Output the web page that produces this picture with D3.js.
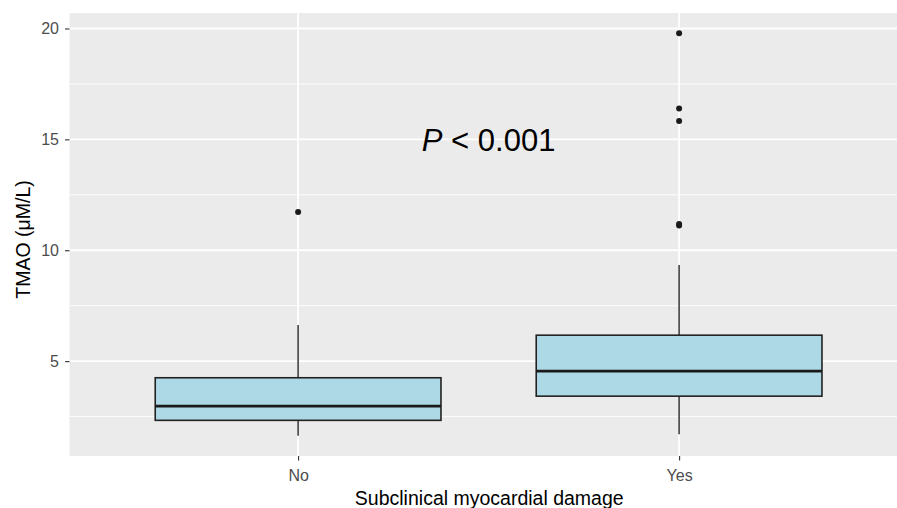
<!DOCTYPE html>
<html>
<head>
<meta charset="utf-8">
<script src="https://cdn.jsdelivr.net/npm/d3@7"></script>
<style>
  body { margin: 0; background: #fff; }
  text { font-family: "Liberation Sans", Arial, sans-serif; }
</style>
</head>
<body>
<script>
var width = 897, height = 508;

// box summaries
var groups = ["No", "Yes"];
var whiskerLow = [1.63, 1.70];
var q1 = [2.33, 3.42];
var median = [2.97, 4.55];
var q3 = [4.25, 6.17];
var whiskerHigh = [6.63, 9.34];
var outliers = [[11.72], [11.12, 11.18, 15.83, 16.39, 19.79]];
var yTicks = [5, 10, 15, 20];
var yMinor = [2.5, 7.5, 12.5, 17.5];

var panel = {left: 69.5, top: 13, bottom: 456};

var svg = d3.select("body")
.append("svg")
.attr("width", width)
.attr("height", height);

// ggplot style 5% expansion on y
var dMin = d3.min(whiskerLow), dMax = d3.max(outliers.flat());
var pad = (dMax - dMin) * 0.05;
var y = d3.scaleLinear()
.domain([dMin - pad, dMax + pad])
.range([panel.bottom, panel.top]);

// discrete positions 1,2 with 0.6 expansion
var x = d3.scaleLinear()
.domain([0.4, 2.6])
.range([panel.left, panel.left + 2.2 * 381]);
var xPos = function(i){ return x(i + 1); };

svg.append("rect")
.attr("x", panel.left)
.attr("y", panel.top)
.attr("width", x(2.6) - panel.left)
.attr("height", panel.bottom - panel.top)
.attr("fill", "#EBEBEB");

svg.selectAll(".minor")
.data(yMinor)
.enter().append("line")
.attr("x1", panel.left).attr("x2", x(2.6))
.attr("y1", d => y(d)).attr("y2", d => y(d))
.attr("stroke", "#fff").attr("stroke-width", 0.9);

svg.selectAll(".major")
.data(yTicks)
.enter().append("line")
.attr("x1", panel.left).attr("x2", x(2.6))
.attr("y1", d => y(d)).attr("y2", d => y(d))
.attr("stroke", "#fff").attr("stroke-width", 1.8);

svg.selectAll(".vmajor")
.data(groups)
.enter().append("line")
.attr("x1", (d, i) => xPos(i)).attr("x2", (d, i) => xPos(i))
.attr("y1", panel.top).attr("y2", panel.bottom)
.attr("stroke", "#fff").attr("stroke-width", 1.8);

// y axis
var yAxis = svg.append("g")
.attr("transform", "translate(" + panel.left + ",0)")
.call(d3.axisLeft(y).tickValues(yTicks).tickSize(4.5).tickPadding(6));
yAxis.select(".domain").remove();
yAxis.selectAll(".tick line").attr("stroke", "#333").attr("stroke-width", 1.1);
yAxis.selectAll(".tick text")
.attr("fill", "#4D4D4D")
.style("font-size", "16px")
.style("font-family", "Liberation Sans, Arial, sans-serif");

// x axis
var xAxis = svg.append("g")
.attr("transform", "translate(0," + panel.bottom + ")")
.call(d3.axisBottom(x).tickValues([1, 2]).tickFormat(d => groups[d - 1]).tickSize(4.5).tickPadding(9.5));
xAxis.select(".domain").remove();
xAxis.selectAll(".tick line").attr("stroke", "#333").attr("stroke-width", 1.1);
xAxis.selectAll(".tick text")
.attr("fill", "#4D4D4D")
.style("font-size", "16px")
.style("font-family", "Liberation Sans, Arial, sans-serif");

var boxW = 0.75 * 381;

var box = svg.selectAll(".box")
.data(groups)
.enter().append("g")
.attr("class", "box");

// whiskers
box.append("line")
.attr("x1", (d, i) => xPos(i)).attr("x2", (d, i) => xPos(i))
.attr("y1", (d, i) => y(q3[i])).attr("y2", (d, i) => y(whiskerHigh[i]))
.attr("stroke", "#333").attr("stroke-width", 1.5);
box.append("line")
.attr("x1", (d, i) => xPos(i)).attr("x2", (d, i) => xPos(i))
.attr("y1", (d, i) => y(q1[i])).attr("y2", (d, i) => y(whiskerLow[i]))
.attr("stroke", "#333").attr("stroke-width", 1.5);

box.append("rect")
.attr("x", (d, i) => xPos(i) - boxW / 2)
.attr("y", (d, i) => y(q3[i]))
.attr("width", boxW)
.attr("height", (d, i) => y(q1[i]) - y(q3[i]))
.attr("fill", "#ADD8E6")
.attr("stroke", "#222")
.attr("stroke-width", 1.6);

box.append("line")
.attr("x1", (d, i) => xPos(i) - boxW / 2).attr("x2", (d, i) => xPos(i) + boxW / 2)
.attr("y1", (d, i) => y(median[i])).attr("y2", (d, i) => y(median[i]))
.attr("stroke", "#1a1a1a").attr("stroke-width", 2.8);

box.selectAll(".out")
.data((d, i) => outliers[i].map(v => ({i: i, v: v})))
.enter().append("circle")
.attr("cx", d => xPos(d.i))
.attr("cy", d => y(d.v))
.attr("r", 3)
.attr("fill", "#1a1a1a");

// annotation
var ann = svg.append("text")
.attr("x", x(1.5))
.attr("y", y(15))
.attr("dy", "0.36em")
.attr("text-anchor", "middle")
.style("font-size", "31px")
.attr("fill", "#000");
ann.append("tspan").style("font-style", "italic").text("P");
ann.append("tspan").text(" < 0.001");

// titles
svg.append("text")
.attr("x", (panel.left + 897) / 2 + 6)
.attr("y", 505)
.attr("text-anchor", "middle")
.style("font-size", "19.5px")
.attr("fill", "#000")
.text("Subclinical myocardial damage");

svg.append("text")
.attr("transform", "translate(29.5," + ((panel.top + panel.bottom) / 2 + 5) + ") rotate(-90)")
.attr("text-anchor", "middle")
.style("font-size", "19.5px")
.attr("fill", "#000")
.text("TMAO (μM/L)");
</script>
</body>
</html>
